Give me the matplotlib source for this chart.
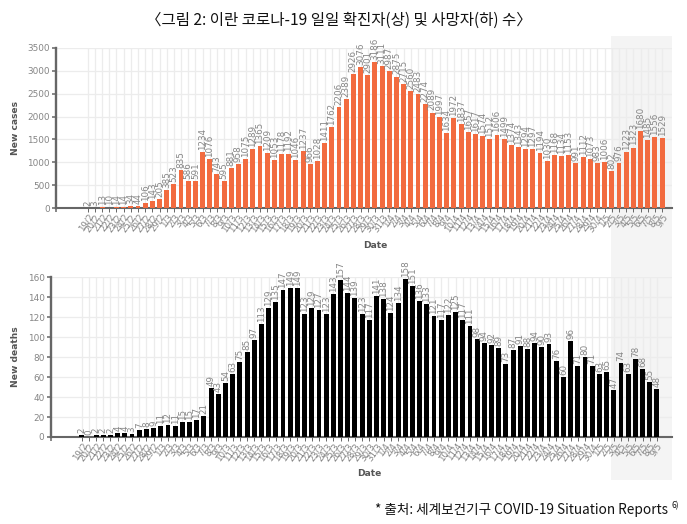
#!/usr/bin/env python3
# -*- coding: utf-8 -*-

import matplotlib
matplotlib.use("Agg")
import matplotlib.pyplot as plt
from matplotlib.patches import Rectangle

W, H = 687, 524
GREY = "#858585"
AXIS = "#666666"

# 19/2 ~ 9/5
dates = [f"{d}/2" for d in range(19, 30)] + [f"{d}/3" for d in range(1, 32)] \
    + [f"{d}/4" for d in range(1, 31)] + [f"{d}/5" for d in range(1, 10)]

cases = [2, 3, 13, 10, 14, 14, 34, 44, 106, 143, 205, 385, 523, 835, 586, 591,
         1234, 1076, 743, 595, 881, 958, 1075, 1289, 1365, 1209, 1053, 1178,
         1192, 1046, 1237, 966, 1028, 1411, 1762, 2206, 2389, 2926, 3076, 2901,
         3186, 3111, 2987, 2875, 2715, 2560, 2483, 2274, 2089, 1997, 1634, 1972,
         1837, 1657, 1617, 1574, 1512, 1606, 1499, 1374, 1343, 1294, 1297, 1194,
         1030, 1168, 1134, 1153, 991, 1112, 1073, 983, 1006, 802, 976, 1223,
         1323, 1680, 1485, 1556, 1529]

deaths = [2, 0, 2, 2, 2, 4, 4, 3, 7, 8, 9, 11, 12, 11, 15, 15, 17, 21, 49, 43,
          54, 63, 75, 85, 97, 113, 129, 135, 147, 149, 149, 123, 129, 127, 123,
          143, 157, 144, 139, 123, 117, 141, 138, 124, 134, 158, 151, 136, 133,
          121, 117, 122, 125, 117, 111, 98, 94, 92, 89, 73, 87, 91, 88, 94, 90,
          93, 76, 60, 96, 71, 80, 71, 63, 65, 47, 74, 63, 78, 68, 55, 48]


def add_panel(fig, box, x0, step, values, color, ylim, yticks, ylabel, date_x, date_y):
    """box = (left, top, right, bottom) in pixels from the top-left corner"""
    left, top, right, bottom = box
    ax = fig.add_axes([left / W, 1 - bottom / H, (right - left) / W, (bottom - top) / H])
    ax.patch.set_alpha(0)

    x = list(range(len(values)))
    ax.bar(x, values, width=0.68, color=color, zorder=3)
    xmin, xmax = -(x0 - left) / step, (right - x0) / step
    ax.set_xlim(xmin, xmax)
    ax.set_ylim(*ylim)

    ax.set_xticks(x)
    ax.set_xticklabels(dates, rotation=55, ha="right", rotation_mode="anchor",
                       fontsize=6.3, color=GREY)
    # the extra tick on the corner of the axes
    ax.set_xticks([xmin], minor=True)
    ax.set_yticks(yticks)
    ax.tick_params(axis="y", labelsize=6.4, labelcolor=GREY, color=AXIS, length=3, width=1.1, pad=1.5)
    ax.tick_params(axis="x", which="major", color=AXIS, length=3, width=0.7, pad=0)
    ax.tick_params(axis="x", which="minor", color=AXIS, length=3, width=1.1)
    ax.grid(True, color="#ececec", linewidth=0.9, zorder=0)
    ax.set_axisbelow(True)

    for s in ("top", "right"):
        ax.spines[s].set_visible(False)
    ax.spines["left"].set_color(AXIS)
    ax.spines["left"].set_linewidth(1.7)
    ax.spines["bottom"].set_color(AXIS)
    ax.spines["bottom"].set_linewidth(1.5)

    for i, v in zip(x, values):
        ax.annotate(str(v), (i, v), xytext=(0, 1.5), textcoords="offset points",
                    rotation=90, ha="center", va="bottom", fontsize=6.3, color=GREY)

    fig.text(15 / W, 1 - (top + bottom) / 2 / H, ylabel, rotation=90, ha="center", va="center",
             fontsize=6.6, fontweight="bold", color="#555555")
    fig.text(date_x / W, 1 - date_y / H, "Date", ha="center", va="center",
             fontsize=6.6, fontweight="bold", color="#555555")
    return ax


def main():
    plt.rcParams["axes.unicode_minus"] = False
    fig = plt.figure(figsize=(W / 100, H / 100), dpi=100, facecolor="white")

    # grey band behind both charts (May)
    fig.add_artist(Rectangle((611 / W, 1 - 480 / H), 61 / W, 444 / H, transform=fig.transFigure,
                             facecolor="#f4f4f4", edgecolor="none", zorder=-5))

    add_panel(fig, (56, 48, 672, 208), 87.7, 7.18, cases, "#f26b3f", (0, 3500),
              range(0, 3501, 500), "New cases", 375, 246)
    add_panel(fig, (50.7, 277.3, 672, 437), 81.7, 7.19, deaths, "black", (0, 160),
              range(0, 161, 20), "New deaths", 369, 474)

    kr = ["Noto Sans CJK KR", "DejaVu Sans"]
    fig.text(339 / W, 1 - 20 / H, "〈그림 2: 이란 코로나-19 일일 확진자(상) 및 사망자(하) 수〉",
             ha="center", va="center", fontsize=11.2, family=kr, color="#111111")
    fig.text(668 / W, 1 - 510 / H, "* 출처: 세계보건기구 COVID-19 Situation Reports",
             ha="right", va="center", fontsize=9.8, family=kr, color="#111111")
    fig.text(672 / W, 1 - 506 / H, "6)", ha="left", va="center", fontsize=6, family=kr, color="#111111")

    fig.savefig("out.png", dpi=100)


if __name__ == "__main__":
    main()
